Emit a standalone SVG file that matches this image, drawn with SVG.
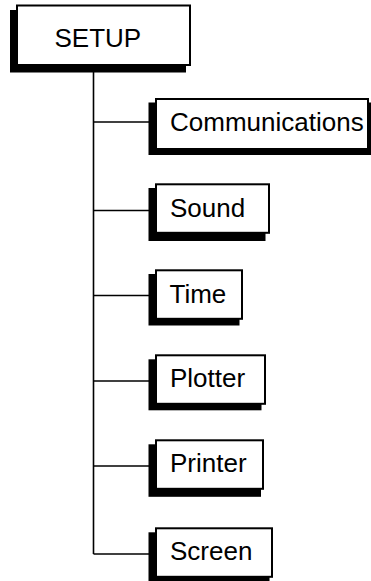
<svg xmlns="http://www.w3.org/2000/svg" width="371" height="581" viewBox="0 0 371 581">
<style>
.shadow{fill:#000;stroke:none}
.box{fill:#fff;stroke:#000;stroke-width:2}
.lbl{font-family:"Liberation Sans",Arial,sans-serif;font-size:26px;fill:#000}
.conn{stroke:#000;stroke-width:1.6;fill:none}
</style>
<rect width="371" height="581" fill="#fff"/>
<g id="connectors">
<line class="conn" x1="93.5" y1="66" x2="93.5" y2="554"/>
<line class="conn" x1="93.5" y1="122" x2="150" y2="122"/>
<line class="conn" x1="93.5" y1="210.5" x2="150" y2="210.5"/>
<line class="conn" x1="93.5" y1="295.5" x2="150" y2="295.5"/>
<line class="conn" x1="93.5" y1="381" x2="150" y2="381"/>
<line class="conn" x1="93.5" y1="466" x2="150" y2="466"/>
<line class="conn" x1="93.5" y1="554" x2="150" y2="554"/>
</g>
<g id="setup">
<rect class="shadow" x="10" y="10" width="176" height="62.5"/>
<rect class="box" x="17" y="5.5" width="173" height="59.5"/>
<text class="lbl" x="54.5" y="46.5">SETUP</text>
</g>
<g id="communications">
<rect class="shadow" x="148.5" y="102.5" width="222.5" height="52.5"/>
<rect class="box" x="156" y="99" width="212" height="50"/>
<text class="lbl" x="170" y="131">Communications</text>
</g>
<g id="sound">
<rect class="shadow" x="148.5" y="188" width="117" height="53"/>
<rect class="box" x="156" y="184.3" width="113" height="48.5"/>
<text class="lbl" x="170" y="217">Sound</text>
</g>
<g id="time">
<rect class="shadow" x="148.5" y="274" width="91" height="51.5"/>
<rect class="box" x="156" y="270.3" width="86" height="48.5"/>
<text class="lbl" x="169.5" y="303">Time</text>
</g>
<g id="plotter">
<rect class="shadow" x="148.5" y="359.3" width="113" height="51"/>
<rect class="box" x="156" y="355.3" width="109" height="48.5"/>
<text class="lbl" x="170" y="387">Plotter</text>
</g>
<g id="printer">
<rect class="shadow" x="148.5" y="444.3" width="112.5" height="52.5"/>
<rect class="box" x="156" y="440.3" width="107" height="48.5"/>
<text class="lbl" x="170" y="471.5">Printer</text>
</g>
<g id="screen">
<rect class="shadow" x="148.5" y="532.3" width="121" height="48.7"/>
<rect class="box" x="156" y="528.3" width="116" height="48.5"/>
<text class="lbl" x="170" y="559.5">Screen</text>
</g>
</svg>
